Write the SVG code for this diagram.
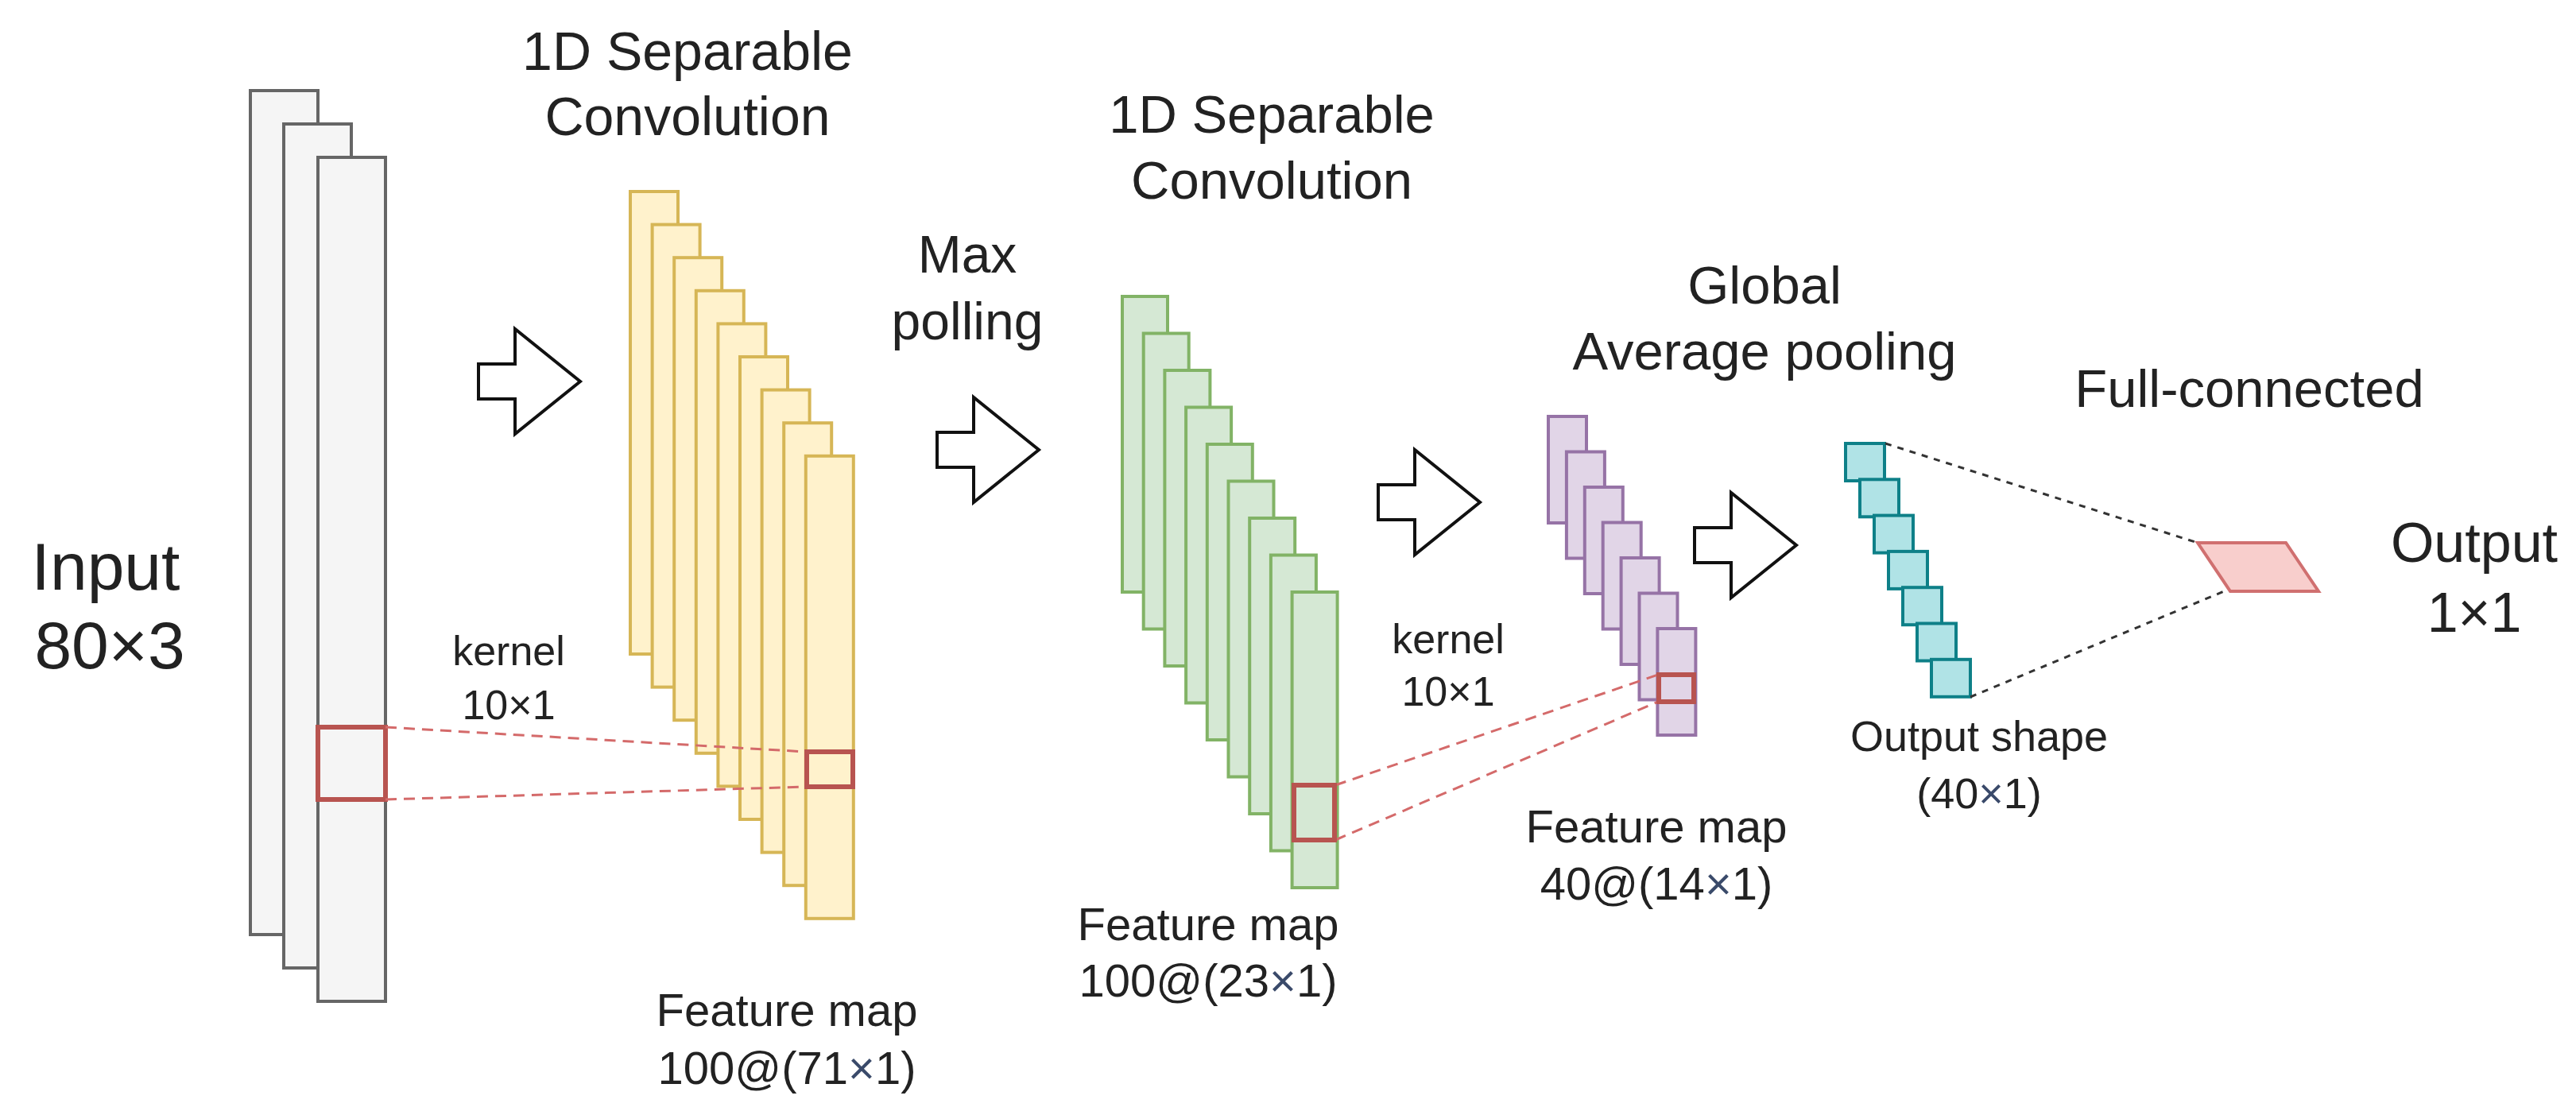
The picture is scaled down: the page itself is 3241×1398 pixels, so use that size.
<svg xmlns="http://www.w3.org/2000/svg" width="3241" height="1398" viewBox="0 0 3241 1398">
<style>
text{font-family:"Liberation Sans",Arial,Helvetica,sans-serif;fill:#222;text-anchor:middle}
.in{fill:#f5f5f5;stroke:#666;stroke-width:4}
.y{fill:#fff2cc;stroke:#d6b656;stroke-width:4}
.g{fill:#d5e8d4;stroke:#82b366;stroke-width:4}
.p{fill:#e1d5e7;stroke:#9673a6;stroke-width:4}
.t{fill:#b0e3e6;stroke:#0e8088;stroke-width:4}
.k{fill:none;stroke:#b85450;stroke-width:6}
.ar{fill:#fff;stroke:#111;stroke-width:4;stroke-linejoin:miter}
.rd{stroke:#d46a6a;stroke-width:3;stroke-dasharray:14 9;fill:none}
.bd{stroke:#333;stroke-width:3;stroke-dasharray:8 8;fill:none}
.x{fill:#3a4a6a}
</style>
<rect width="3241" height="1398" fill="#fff"/>

<g id="input">
<rect class="in" x="315" y="114" width="85" height="1062"/>
<rect class="in" x="357" y="156" width="85" height="1062"/>
<rect class="in" x="400" y="198" width="85" height="1062"/>
<rect class="k" x="400" y="915" width="85" height="91"/>
</g>
<g id="input-label">
<text x="133" y="742" font-size="84">Input</text>
<text x="138" y="841" font-size="84">80×3</text>
</g>

<g id="arrow1"><path class="ar" d="M602,458 H648 V414 L730,480 L648,546 V502 H602 Z"/></g>
<g id="arrow2"><path class="ar" d="M1179,544 H1225 V500 L1307,566 L1225,632 V588 H1179 Z"/></g>
<g id="arrow3"><path class="ar" d="M1734,610 H1780 V566 L1862,632 L1780,698 V654 H1734 Z"/></g>
<g id="arrow4"><path class="ar" d="M2132,664 H2178 V620 L2260,686 L2178,752 V708 H2132 Z"/></g>

<g id="conv1">
<rect class="y" x="793" y="241" width="60" height="582"/>
<rect class="y" x="820.6" y="282.6" width="60" height="582"/>
<rect class="y" x="848.2" y="324.2" width="60" height="582"/>
<rect class="y" x="875.8" y="365.8" width="60" height="582"/>
<rect class="y" x="903.4" y="407.4" width="60" height="582"/>
<rect class="y" x="931" y="449" width="60" height="582"/>
<rect class="y" x="958.6" y="490.6" width="60" height="582"/>
<rect class="y" x="986.2" y="532.2" width="60" height="582"/>
<rect class="y" x="1013.8" y="573.8" width="60" height="582"/>
</g>

<g id="conv2">
<rect class="g" x="1412" y="373" width="57" height="372"/>
<rect class="g" x="1438.7" y="419.5" width="57" height="372"/>
<rect class="g" x="1465.4" y="466" width="57" height="372"/>
<rect class="g" x="1492.1" y="512.5" width="57" height="372"/>
<rect class="g" x="1518.8" y="559" width="57" height="372"/>
<rect class="g" x="1545.5" y="605.5" width="57" height="372"/>
<rect class="g" x="1572.2" y="652" width="57" height="372"/>
<rect class="g" x="1598.9" y="698.5" width="57" height="372"/>
<rect class="g" x="1625.6" y="745" width="57" height="372"/>
</g>

<g id="gap">
<rect class="p" x="1948" y="524" width="48" height="134"/>
<rect class="p" x="1970.9" y="568.5" width="48" height="134"/>
<rect class="p" x="1993.8" y="613" width="48" height="134"/>
<rect class="p" x="2016.7" y="657.5" width="48" height="134"/>
<rect class="p" x="2039.6" y="702" width="48" height="134"/>
<rect class="p" x="2062.5" y="746.5" width="48" height="134"/>
<rect class="p" x="2085.4" y="791" width="48" height="134"/>
</g>

<g id="fc">
<rect class="t" x="2322" y="558" width="49" height="47"/>
<rect class="t" x="2340" y="603.3" width="49" height="47"/>
<rect class="t" x="2358" y="648.6" width="49" height="47"/>
<rect class="t" x="2376" y="693.9" width="49" height="47"/>
<rect class="t" x="2394" y="739.2" width="49" height="47"/>
<rect class="t" x="2412" y="784.5" width="49" height="47"/>
<rect class="t" x="2430" y="829.8" width="49" height="47"/>
</g>

<g id="output">
<polygon points="2765,683 2876,683 2917,744 2806,744" fill="#f8cecc" stroke="#d07070" stroke-width="4"/>
</g>

<g id="connectors">
<line class="rd" x1="485" y1="915" x2="1014" y2="946"/>
<line class="rd" x1="485" y1="1006" x2="1014" y2="990"/>
<line class="rd" x1="1680" y1="988" x2="2086" y2="849"/>
<line class="rd" x1="1680" y1="1057" x2="2086" y2="883"/>
<line class="bd" x1="2372" y1="558" x2="2765" y2="683"/>
<line class="bd" x1="2479" y1="877" x2="2803" y2="742"/>
</g>

<g id="kernels">
<rect class="k" x="1015" y="946" width="58" height="44"/>
<rect class="k" x="1628" y="988" width="51" height="69"/>
<rect class="k" x="2087" y="849" width="44" height="34"/>
</g>

<g id="labels">
<text x="865" y="88" font-size="68">1D Separable</text>
<text x="865" y="170" font-size="68">Convolution</text>
<text x="1217" y="343" font-size="66">Max</text>
<text x="1217" y="427" font-size="66">polling</text>
<text x="1600" y="167" font-size="67">1D Separable</text>
<text x="1600" y="250" font-size="67">Convolution</text>
<text x="2220" y="382" font-size="67">Global</text>
<text x="2220" y="465" font-size="67">Average pooling</text>
<text x="2830" y="512" font-size="67">Full-connected</text>
<text x="3113" y="707" font-size="70">Output</text>
<text x="3113" y="795" font-size="70">1×1</text>
<text x="640" y="837" font-size="52">kernel</text>
<text x="640" y="905" font-size="52">10×1</text>
<text x="1822" y="822" font-size="52">kernel</text>
<text x="1822" y="888" font-size="52">10×1</text>
<text x="990" y="1291" font-size="58">Feature map</text>
<text x="990" y="1364" font-size="58">100@(71<tspan class="x">×</tspan>1)</text>
<text x="1520" y="1183" font-size="58">Feature map</text>
<text x="1520" y="1254" font-size="58">100@(23<tspan class="x">×</tspan>1)</text>
<text x="2084" y="1060" font-size="58">Feature map</text>
<text x="2084" y="1132" font-size="58">40@(14<tspan class="x">×</tspan>1)</text>
<text x="2490" y="945" font-size="54">Output shape</text>
<text x="2490" y="1017" font-size="54">(40<tspan class="x">×</tspan>1)</text>
</g>
</svg>
